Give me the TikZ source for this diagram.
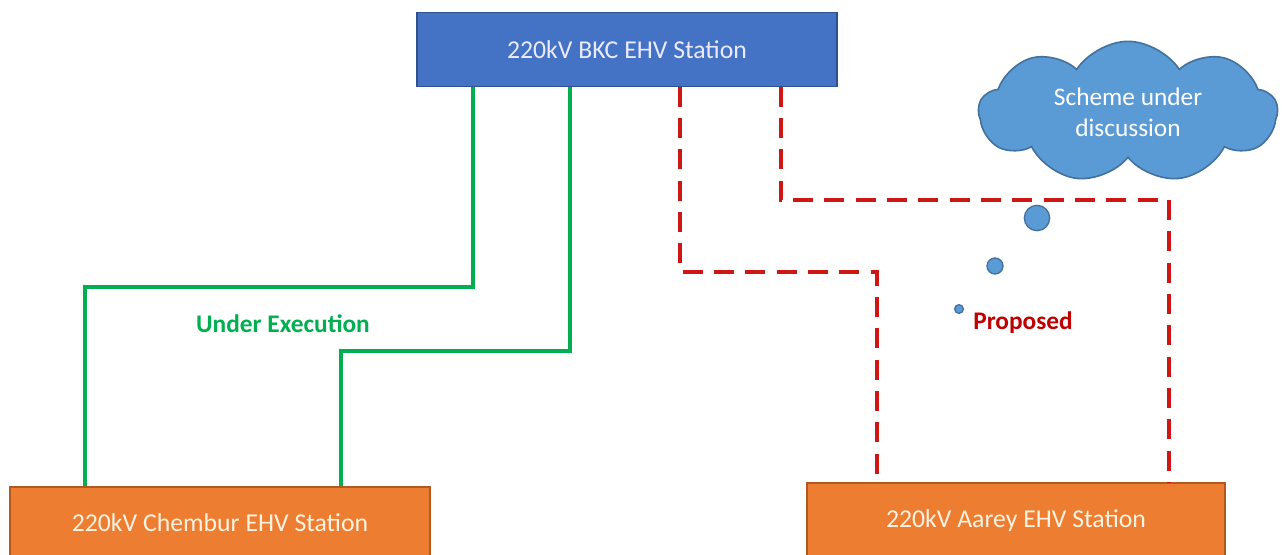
\documentclass[tikz,border=0pt]{standalone}
\usepackage{fontspec}
\setmainfont{Carlito}
\usetikzlibrary{shapes.symbols}
\definecolor{boxblue}{HTML}{4472C4}
\definecolor{boxblueline}{HTML}{2F528F}
\definecolor{boxorange}{HTML}{ED7D31}
\definecolor{boxorangeline}{HTML}{AE5A21}
\definecolor{lgreen}{HTML}{00B050}
\definecolor{lred}{HTML}{D01515}
\definecolor{tred}{HTML}{C00000}
\definecolor{cloudblue}{HTML}{5B9BD5}
\definecolor{cloudline}{HTML}{41719C}
\definecolor{boxtext}{HTML}{FFF2E0}
\tikzset{
  station/.style={draw, line width=0.8pt, minimum width=315pt, inner sep=0pt,
    font=\fontsize{19.3}{22}\selectfont, text=boxtext},
  gline/.style={draw=lgreen, line width=2.4pt},
  rline/.style={draw=lred, line width=2.4pt, dash pattern=on 15pt off 8.5pt},
  lbl/.style={font=\fontsize{19}{22}\selectfont\bfseries},
  bubble/.style={circle, draw=cloudline, fill=cloudblue, line width=1pt, inner sep=0pt}
}
\begin{document}
\begin{tikzpicture}[x=0.75pt, y=-0.75pt]
\useasboundingbox (0,0) rectangle (1282,554);
\clip (0,0) rectangle (1282,554);
\fill[white] (0,0) rectangle (1282,554);
% stations
\node[station, fill=boxblue, draw=boxblueline, minimum height=55pt, text=white!92!blue] (bkc) at (627,49.5) {220kV BKC EHV Station};
\node[station, fill=boxorange, draw=boxorangeline, minimum height=54pt] (chem) at (220,523) {220kV Chembur EHV Station};
\node[station, fill=boxorange, draw=boxorangeline, minimum width=313.5pt, minimum height=57pt] (aarey) at (1016,521) {220kV Aarey EHV Station};
% under execution
\draw[gline] (bkc.south -| 473,0) |- (85,287) -- (85,0 |- chem.north);
\draw[gline] (bkc.south -| 570,0) |- (341,351) -- (341,0 |- chem.north);
% proposed
\draw[rline] (bkc.south -| 680,0) |- (877,272) -- (877,475);
\draw[rline] (bkc.south -| 781,0) |- (1169,200) -- (1169,0 |- aarey.north);
% labels
\node[lbl, text=lgreen] (ue) at (283,324) {Under Execution};
\node[lbl, text=tred] (prop) at (1023,323) {Proposed};
% cloud
\node[cloud, cloud puffs=9, cloud puff arc=115, aspect=2.1, draw=cloudline, fill=cloudblue,
  line width=1.2pt, minimum width=224pt, minimum height=106pt, inner sep=0pt,
  align=center, text=white, font=\fontsize{19}{23}\selectfont] (cl) at (1128,112)
  {Scheme under\\discussion};
\node[bubble, minimum size=19pt] (b1) at (1037,218) {};
\node[bubble, minimum size=12pt] (b2) at (995,266) {};
\node[bubble, minimum size=6.5pt] (b3) at (959,309) {};
\end{tikzpicture}
\end{document}
